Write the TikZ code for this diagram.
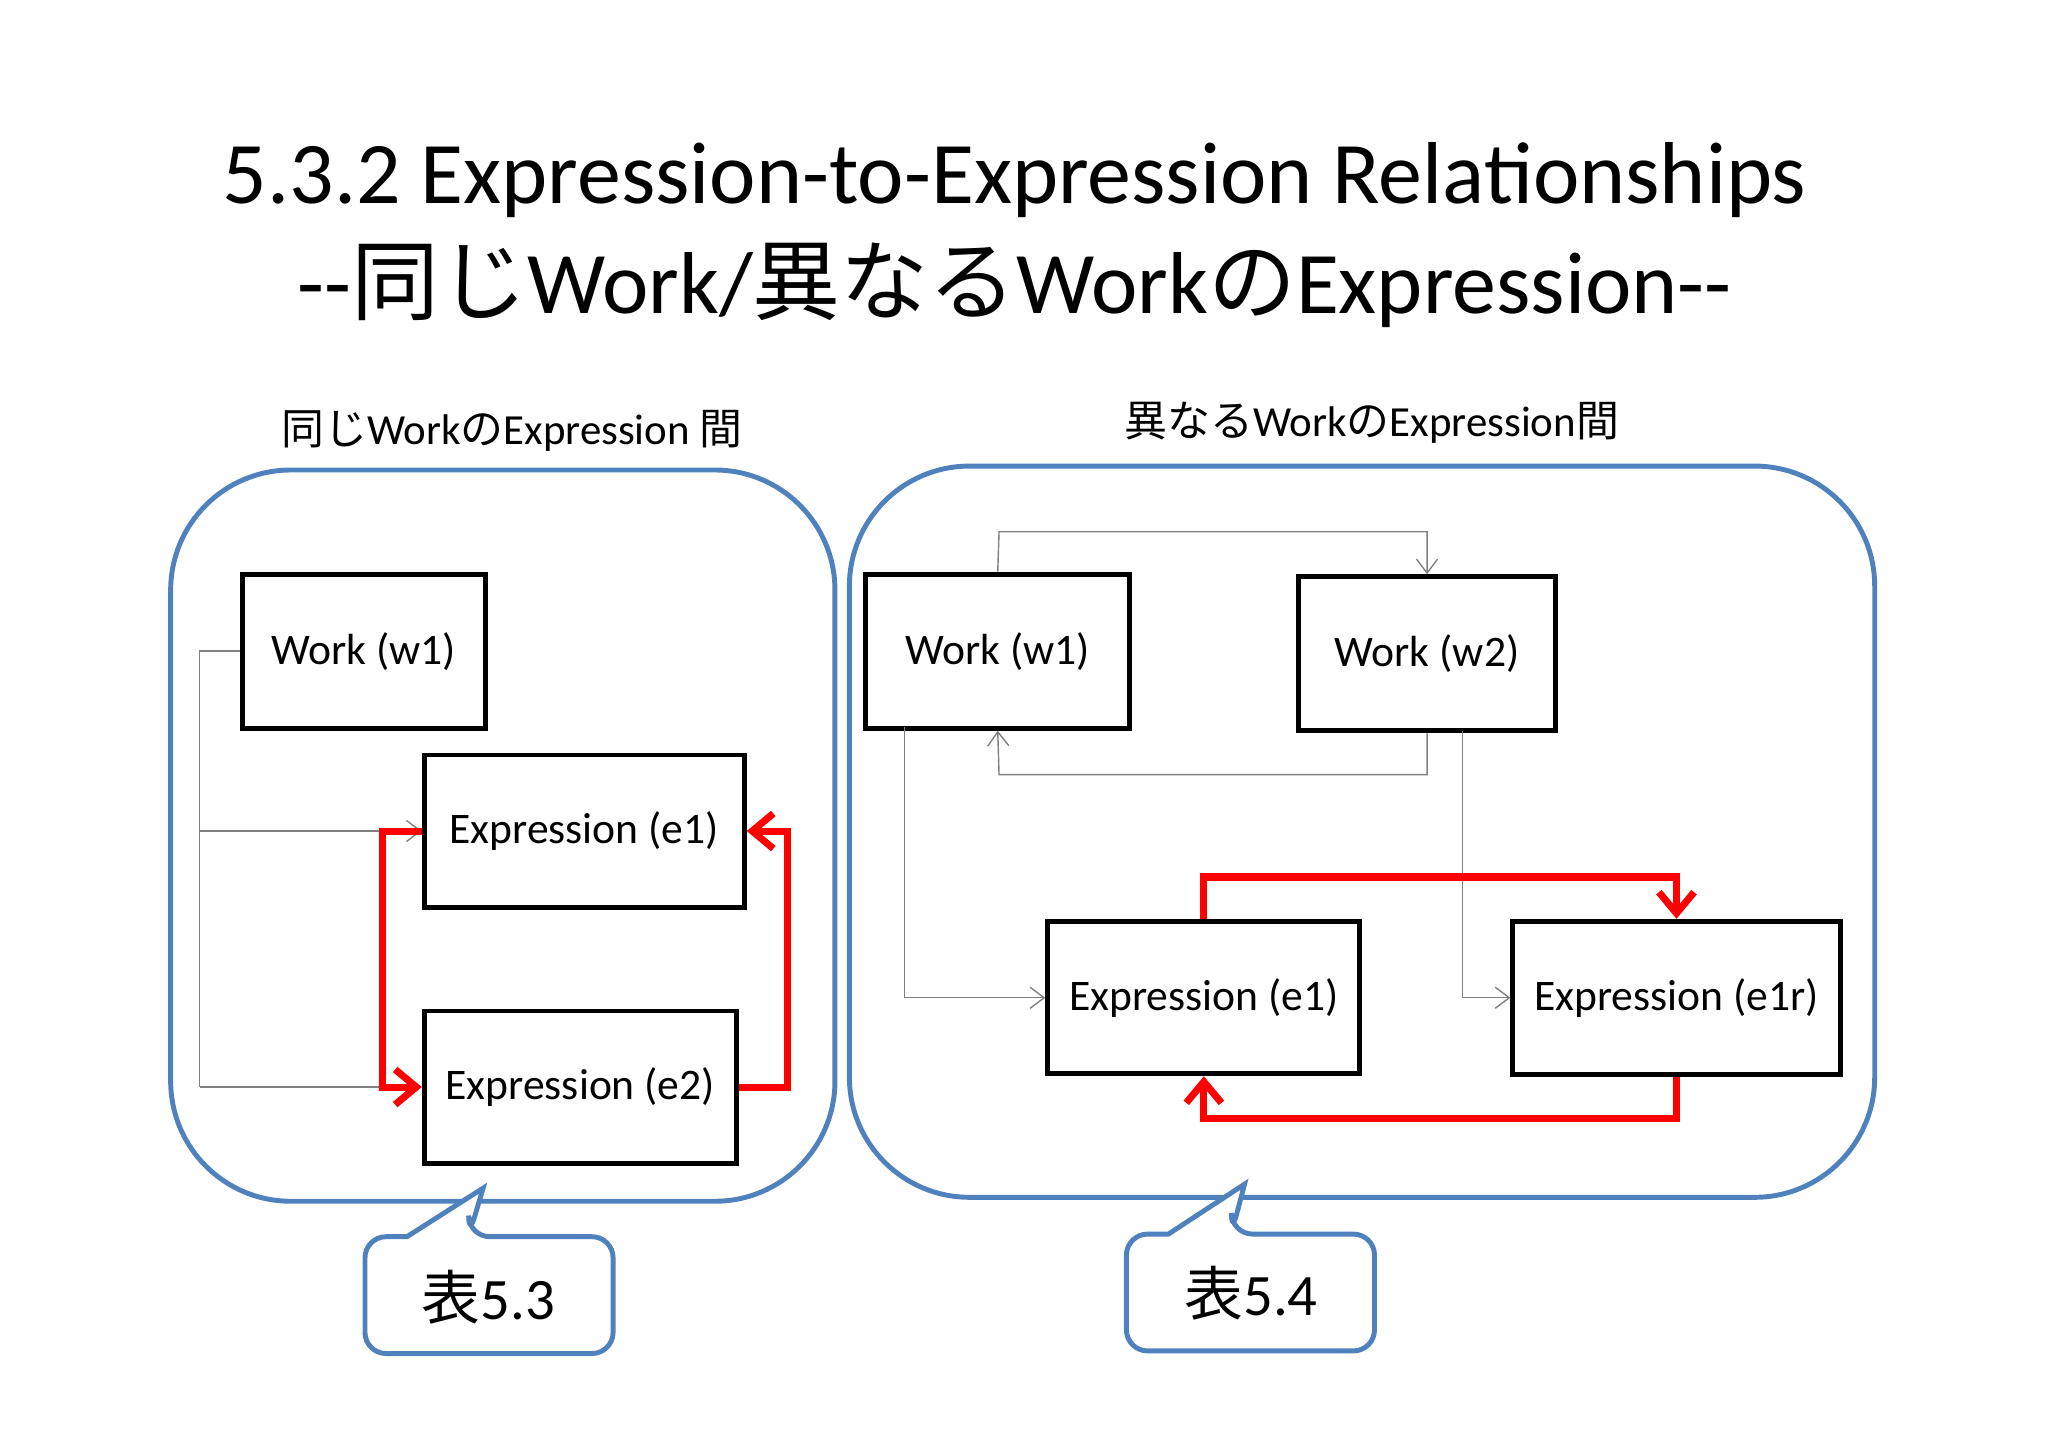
\documentclass[tikz,border=0pt]{standalone}
\usepackage{fontspec}
\setmainfont{Carlito}
\newfontfamily\cjk{Noto Sans CJK JP}
\usetikzlibrary{arrows.meta}
\definecolor{frameblue}{RGB}{79,129,189}
\tikzset{
  box/.style={draw=black,line width=1.4pt,inner sep=0pt,font=\fontsize{12.4}{14}\selectfont},
  group/.style={draw=frameblue,line width=1.4pt,rounded corners=1.2cm},
  thin/.style={draw=gray,line width=0.4pt,-{Straight Barb[length=4pt,width=6pt]}},
  rel/.style={draw=red,line width=2pt,-{Straight Barb[length=6pt,width=10pt,line width=2pt]}},
  callout/.style={draw=frameblue,line width=1.4pt,fill=white}
}
\begin{document}
\begin{tikzpicture}[x=0.013128cm,y=-0.013128cm]
    \useasboundingbox (0,0) rectangle (1560,1103);
    % title
    \node[font=\fontsize{25}{30}\selectfont] (title1) at (773,137) {5.3.2 Expression-to-Expression Relationships};
    \node[font=\fontsize{25}{30}\selectfont] (title2) at (773,217) {-{}-{\cjk 同じ}Work/{\cjk 異なる}Work{\cjk の}Expression-{}-};
    % groups
    \draw[group] (130,358) rectangle (636,915);
    \draw[group] (647,355) rectangle (1428,912);
    \node[font=\fontsize{12.2}{14}\selectfont] (lab1) at (390,328) {{\cjk 同じ}Work{\cjk の}Expression {\cjk 間}};
    \node[font=\fontsize{12.2}{14}\selectfont] (lab2) at (1045,322) {{\cjk 異なる}Work{\cjk の}Expression{\cjk 間}};
    % left nodes
    \node[box,minimum width=2.43cm,minimum height=1.54cm] (lw1) at (277,496) {Work (w1)};
    \node[box,minimum width=3.2cm,minimum height=1.52cm] (le1) at (445,633) {Expression (e1)};
    \node[box,minimum width=3.12cm,minimum height=1.52cm] (le2) at (442,828) {Expression (e2)};
    \coordinate (lj) at (152,496);
    \draw[gray,line width=0.4pt] (lw1.west) -- (lj) -- (152,828);
    \draw[thin] (152,633) -- (le1.west);
    \draw[thin] (152,828) -- (le2.west);
    \draw[rel] (le1.west) -- (291,633) -- (291,828) -- (le2.west);
    \draw[rel] (le2.east) -- (600,828) -- (600,633) -- (le1.east);
    % right nodes
    \node[box,minimum width=2.64cm,minimum height=1.54cm] (rw1) at (760,496) {Work (w1)};
    \node[box,minimum width=2.57cm,minimum height=1.54cm] (rw2) at (1087,498) {Work (w2)};
    \node[box,minimum width=3.12cm,minimum height=1.52cm] (re1) at (917,760) {Expression (e1)};
    \node[box,minimum width=3.27cm,minimum height=1.53cm] (re1r) at (1277,760) {Expression (e1r)};
    \draw[thin] (rw1.north) -- (761,405) -- (1087,405) -- (rw2.north);
    \draw[thin] (rw2.south) -- (1087,590) -- (761,590) -- (rw1.south);
    \draw[thin] (689,554) -- (689,760) -- (re1.west);
    \draw[thin] (1114,557) -- (1114,760) -- (re1r.west);
    \draw[rel] (re1.north) -- (917,668) -- (1277,668) -- (re1r.north);
    \draw[rel] (re1r.south) -- (1277,852) -- (917,852) -- (re1.south);
    % callouts
    \draw[callout] (357,942) -- (368,905) -- (310,942) [rounded corners=6pt] -- (278,942) -- (278,1031) -- (467,1031) -- (467,942) -- (357,942) -- cycle;
    \node[font=\fontsize{16.7}{20}\selectfont] (c1) at (372,988) {{\cjk 表}5.3};
    \draw[callout] (938,940) -- (948,902) -- (890,940) [rounded corners=6pt] -- (858,940) -- (858,1029) -- (1047,1029) -- (1047,940) -- (938,940) -- cycle;
    \node[font=\fontsize{16.7}{20}\selectfont] (c2) at (953,985) {{\cjk 表}5.4};
\end{tikzpicture}
\end{document}
